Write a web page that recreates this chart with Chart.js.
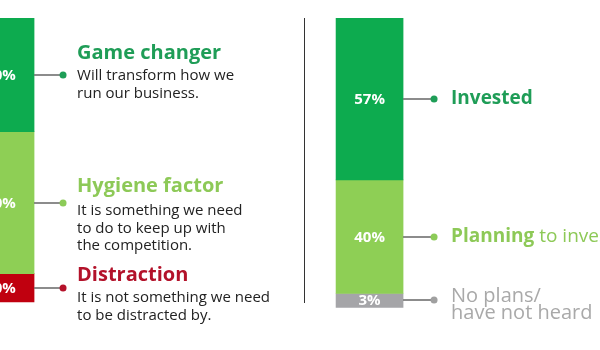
<!DOCTYPE html>
<html>
<head>
<meta charset="utf-8">
<script src="https://cdn.jsdelivr.net/npm/chart.js@4"></script>
<style>
  html, body { margin: 0; padding: 0; background: #fff; }
</style>
</head>
<body>
<canvas id="mycanvas" width="600" height="350"></canvas>
<script>
// two stacked bars: impact of the technology (left) and investment status (right)
var categories = ['Impact', 'Investment'];
var topValues = [40, 57];
var midValues = [50, 40];
var lowValues = [10, 3];

var leftTitles = ['Game changer', 'Hygiene factor', 'Distraction'];
var leftNotes = [
  ['Will transform how we', 'run our business.'],
  ['It is something we need', 'to do to keep up with', 'the competition.'],
  ['It is not something we need', 'to be distracted by.']
];
var rightBold = ['Invested', 'Planning', ''];
var rightRest = ['', ' to invest', ''];
var rightGrey = [[], [], ['No plans/', 'have not heard']];

var FONT = '"Open Sans", sans-serif';
var darkGreen = '#0dab4f';
var lightGreen = '#8ecf55';
var segColors = [
  [darkGreen, darkGreen],
  [lightGreen, lightGreen],
  ['#c0000f', '#a5a5a8']
];
var dotColors = [
  ['#1e9e57', '#1e9e57'],
  ['#8ccb58', '#8ccb58'],
  ['#b5122a', '#a0a0a0']
];
var titleColors = ['#1f9d57', '#8dc957', '#b3122a'];
// baseline of each title on the left
var leftTitleY = [59, 192, 281];

function pts(vals) {
  return vals.map(function (v, i) { return { x: i, y: v }; });
}

var labelPlugin = {
  id: 'labels',
  afterDatasetsDraw: function (chart) {
    var ctx = chart.ctx;
    var area = chart.chartArea;
    ctx.save();

    // divider between the two panels
    ctx.strokeStyle = '#333';
    ctx.lineWidth = 1;
    ctx.beginPath();
    ctx.moveTo(304.5, area.top);
    ctx.lineTo(304.5, 303);
    ctx.stroke();

    var series = [topValues, midValues, lowValues];
    for (var d = 0; d < 3; d++) {
      var meta = chart.getDatasetMeta(d);
      for (var i = 0; i < meta.data.length; i++) {
        var el = meta.data[i];
        var cy = Math.round((el.y + el.base) / 2);
        var edge = el.x + el.width / 2;

        // value inside the bar
        ctx.fillStyle = '#fff';
        ctx.font = 'bold 15px ' + FONT;
        ctx.textAlign = 'center';
        ctx.textBaseline = 'middle';
        ctx.fillText(series[d][i] + '%', el.x, cy + 1);

        // connector + dot
        var dotX = edge + (i == 0 ? 29 : 31);
        ctx.strokeStyle = '#666';
        ctx.lineWidth = 1.5;
        ctx.beginPath();
        ctx.moveTo(edge, cy);
        ctx.lineTo(dotX, cy);
        ctx.stroke();
        ctx.fillStyle = dotColors[d][i];
        ctx.beginPath();
        ctx.arc(dotX, cy, 3.5, 0, Math.PI * 2);
        ctx.fill();

        ctx.textAlign = 'left';
        if (i == 0) {
          var tx = edge + 43;
          var ty = leftTitleY[d];
          ctx.textBaseline = 'alphabetic';
          ctx.fillStyle = titleColors[d];
          ctx.font = 'bold 20px ' + FONT;
          ctx.fillText(leftTitles[d], tx, ty);
          ctx.fillStyle = '#222';
          ctx.font = '15px ' + FONT;
          var notes = leftNotes[d];
          var first = d == 1 ? 23 : 21;
          for (var k = 0; k < notes.length; k++) {
            ctx.fillText(notes[k], tx, ty + first + k * 17.5);
          }
        } else {
          var rx = edge + 48;
          ctx.textBaseline = 'middle';
          if (rightBold[d]) {
            ctx.fillStyle = titleColors[d];
            ctx.font = 'bold 19px ' + FONT;
            ctx.fillText(rightBold[d], rx, cy);
            var w = ctx.measureText(rightBold[d]).width;
            ctx.font = '19px ' + FONT;
            ctx.fillText(rightRest[d], rx + w, cy);
          }
          var g = rightGrey[d];
          ctx.fillStyle = '#a9a9a9';
          ctx.font = '20px ' + FONT;
          for (var m = 0; m < g.length; m++) {
            ctx.fillText(g[m], rx, cy - 4 + m * 17);
          }
        }
      }
    }
    ctx.restore();
  }
};

var chartdata = {
  labels: categories,
  datasets: [
    { label: 'top', data: pts(topValues), backgroundColor: segColors[0], barThickness: 67, borderWidth: 0 },
    { label: 'middle', data: pts(midValues), backgroundColor: segColors[1], barThickness: 67, borderWidth: 0 },
    { label: 'bottom', data: pts(lowValues), backgroundColor: segColors[2], barThickness: 67, borderWidth: 0, minBarLength: 14, clip: false }
  ]
};

var ctx = document.getElementById('mycanvas');
var myChart = new Chart(ctx, {
  type: 'bar',
  data: chartdata,
  plugins: [labelPlugin],
  options: {
    responsive: false,
    animation: false,
    devicePixelRatio: 1,
    layout: { padding: { top: 18, bottom: 48, left: 0, right: 0 } },
    plugins: { legend: { display: false }, tooltip: { enabled: false } },
    scales: {
      x: { type: 'linear', min: -0.0015, max: 1.6245, offset: false, stacked: true, display: false },
      y: { min: 0, max: 100, reverse: true, stacked: true, display: false }
    }
  }
});
</script>
</body>
</html>
